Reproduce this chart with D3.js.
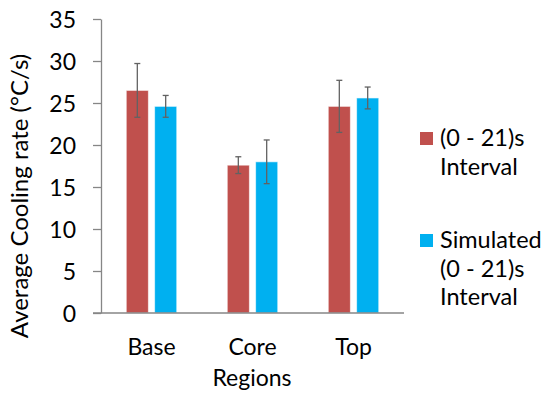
<!DOCTYPE html>
<html><head><meta charset="utf-8">
<script src="https://cdn.jsdelivr.net/npm/d3@7"></script>
<style>body{margin:0;background:#fff}svg{display:block}text{font-family:Lato,"Open Sans",sans-serif;fill:#000}</style>
</head><body><svg id="c" width="547" height="396"></svg>
<script>
const categories = ["Base", "Core", "Top"];
const seriesNames = ["(0 - 21)s Interval", "Simulated (0 - 21)s Interval"];
const measured = [26.5, 17.6, 24.6];
const measuredErr = [3.2, 1.0, 3.1];
const simulated = [24.6, 18.0, 25.6];
const simulatedErr = [1.3, 2.6, 1.3];
const yTicks = [0, 5, 10, 15, 20, 25, 30, 35];
const colors = ["#C0504D", "#00B0F0"];

(function () {
const svg = d3.select("#c");
const mL = 101, mR = 404, mT = 19, mB = 313;
const x = d3.scaleBand().domain(categories).range([mL, mR]).paddingInner(0.5).paddingOuter(0.25);
const y = d3.scaleLinear().domain([0, 35]).range([mB, mT]);
const x1 = d3.scaleBand().domain([0, 1]).range([0, x.bandwidth()]).paddingInner(0.22);

const series = [
  {vals: measured, err: measuredErr},
  {vals: simulated, err: simulatedErr}
];

const g = svg.append("g");
series.forEach((s, si) => {
  categories.forEach((c, i) => {
    g.append("rect")
      .attr("x", x(c) + x1(si)).attr("y", y(s.vals[i]))
      .attr("width", x1.bandwidth()).attr("height", y(0) - y(s.vals[i]))
      .attr("fill", colors[si]).attr("stroke", "rgba(255,255,255,0.6)").attr("stroke-width", 1);
  });
});
series.forEach((s, si) => {
  categories.forEach((c, i) => {
    const cx = x(c) + x1(si) + x1.bandwidth() / 2;
    const y1 = y(s.vals[i] + s.err[i]), y2 = y(s.vals[i] - s.err[i]);
    const e = g.append("g").attr("stroke", "#626262").attr("stroke-width", 1.3);
    e.append("line").attr("x1", cx).attr("x2", cx).attr("y1", y1).attr("y2", y2);
    e.append("line").attr("x1", cx - 3).attr("x2", cx + 3).attr("y1", y1).attr("y2", y1);
    e.append("line").attr("x1", cx - 3).attr("x2", cx + 3).attr("y1", y2).attr("y2", y2);
  });
});

const ya = svg.append("g").attr("transform", `translate(${mL},0)`)
  .call(d3.axisLeft(y).tickValues(yTicks).tickSize(8).tickPadding(17).tickSizeOuter(0));
ya.select(".domain").attr("stroke", "#868686").attr("stroke-width", 1.3);
ya.selectAll(".tick line").attr("stroke", "#868686").attr("stroke-width", 1.3);
ya.selectAll(".tick text").style("font-size", "23px").attr("dy", "0.35em");

const xa = svg.append("g").attr("transform", `translate(0,${mB})`)
  .call(d3.axisBottom(x).tickSize(0).tickPadding(42).tickSizeOuter(0));
xa.select(".domain").attr("stroke", "#868686").attr("stroke-width", 1.3)
  .attr("d", `M${mL - 8},0H${mR}`);
xa.selectAll(".tick text").style("font-size", "23px").attr("dy", "0");

svg.append("text").attr("transform", `translate(28,196) rotate(-90)`)
  .attr("text-anchor", "middle").style("font-size", "24px").text("Average Cooling rate (°C/s)");
svg.append("text").attr("x", 252).attr("y", 386).attr("text-anchor", "middle")
  .style("font-size", "23px").text("Regions");

const legendLines = [["(0 - 21)s", "Interval"], ["Simulated", "(0 - 21)s", "Interval"]];
const legendY = [146, 248];
legendLines.forEach((lines, i) => {
  svg.append("rect").attr("x", 420).attr("y", legendY[i] - 14).attr("width", 13).attr("height", 13).attr("fill", colors[i]);
  lines.forEach((t, j) => {
    svg.append("text").attr("x", 440).attr("y", legendY[i] + j * 28.5)
      .style("font-size", "23.5px").text(t);
  });
});
})();
</script></body></html>
